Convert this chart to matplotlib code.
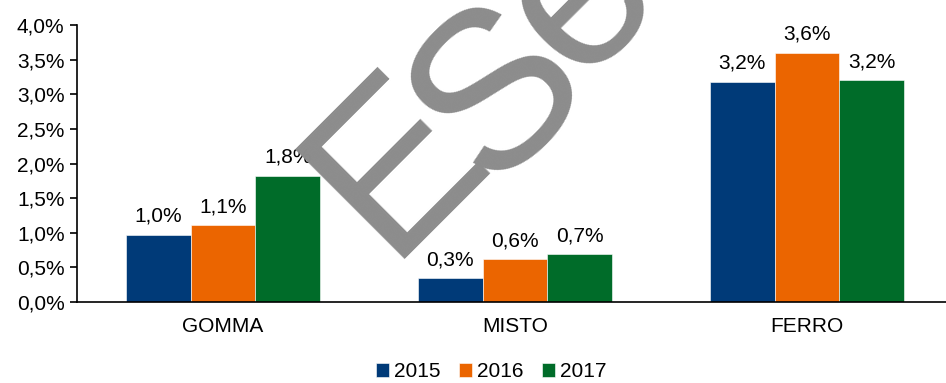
import numpy as np
import matplotlib.pyplot as plt
from matplotlib.ticker import FuncFormatter

plt.rcParams['font.family'] = ['Liberation Sans', 'DejaVu Sans']

categories = ['GOMMA', 'MISTO', 'FERRO']
years = ['2015', '2016', '2017']
values = {
    '2015': [0.97, 0.34, 3.18],
    '2016': [1.11, 0.62, 3.60],
    '2017': [1.82, 0.69, 3.20],
}
colors = ['#003A78', '#EB6500', '#006C29']

fig = plt.figure(figsize=(9.46, 3.83), dpi=100)
ax = fig.add_axes([0.0814, 0.2115, 0.9186, 0.7232])

x = np.arange(len(categories))
width = 0.222
for i, (year, col) in enumerate(zip(years, colors)):
    pos = x + (i - 1) * width
    bars = ax.bar(pos, values[year], width, color=col, label=year,
                  edgecolor='white', linewidth=0.4, zorder=2)
    for b, v in zip(bars, values[year]):
        ax.annotate(f'{v:.1f}'.replace('.', ',') + '%',
                    (b.get_x() + b.get_width() / 2, v),
                    xytext=(0, 6.5), textcoords='offset points',
                    ha='center', va='bottom', fontsize=15, zorder=3)

ax.set_xlim(-0.5, 2.476)
ax.set_ylim(0, 4.0)
ax.set_yticks(np.arange(0, 4.01, 0.5))
ax.yaxis.set_major_formatter(FuncFormatter(lambda v, p: f'{v:.1f}'.replace('.', ',') + '%'))
ax.set_xticks(x)
ax.set_xticklabels(categories)
ax.tick_params(axis='x', length=0, pad=11, labelsize=15)
ax.tick_params(axis='y', length=5, width=1.2, labelsize=15, pad=4)
for s in ['top', 'right']:
    ax.spines[s].set_visible(False)
ax.spines['left'].set_linewidth(1.2)
ax.spines['bottom'].set_linewidth(1.2)

fig.legend(loc='lower center', bbox_to_anchor=(0.519, -0.045), ncol=3,
           frameon=False, fontsize=15, handlelength=0.65, handleheight=0.65,
           handletextpad=0.2, columnspacing=0.9)

# watermark, one letter at a time along the diagonal
for ch, (fx, fy) in zip('ESe', [(0.4088, 0.3230), (0.5171, 0.5089), (0.6102, 0.7845)]):
    fig.text(fx, fy, ch, fontsize=161, color='#8C8C8C',
             rotation=45, rotation_mode='anchor', ha='left', va='baseline',
             zorder=10)

fig.savefig('out.png', dpi=100)
